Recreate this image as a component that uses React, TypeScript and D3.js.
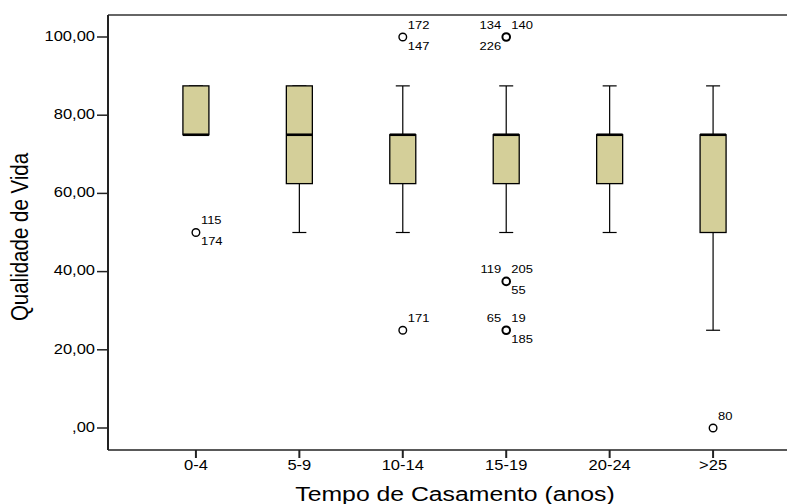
import React, { useEffect, useRef } from 'react';
import * as d3 from 'd3';

// box statistics per marriage-time group
const groups = ['0-4', '5-9', '10-14', '15-19', '20-24', '>25'];
const q1 = [75, 62.5, 62.5, 62.5, 62.5, 50];
const medians = [75, 75, 75, 75, 75, 75];
const q3 = [87.5, 87.5, 75, 75, 75, 75];
const whiskerLow = [75, 50, 50, 50, 50, 25];
const whiskerHigh = [87.5, 87.5, 87.5, 87.5, 87.5, 87.5];

// outliers (case numbers placed around the circle)
const outlierGroups = ['0-4', '10-14', '10-14', '15-19', '15-19', '15-19', '>25'];
const outlierValues = [50, 100, 25, 100, 37.5, 25, 0];
const outlierLabels: [string, string][][] = [
  [['115', 'ur'], ['174', 'lr']],
  [['172', 'ur'], ['147', 'lr']],
  [['171', 'ur']],
  [['134', 'ul'], ['140', 'ur'], ['226', 'll']],
  [['119', 'ul'], ['205', 'ur'], ['55', 'lr']],
  [['65', 'ul'], ['19', 'ur'], ['185', 'lr']],
  [['80', 'ur']],
];

const yTicks = [0, 20, 40, 60, 80, 100];

const App = () => {
  const svgRef = useRef<SVGSVGElement>(null);

  useEffect(() => {
    const svg = d3.select(svgRef.current);
    svg.selectAll('*').remove();

    const width = 787;
    const height = 504;
    const left = 108;
    const top = 15;
    const bottom = 450;
    const stretch = 1.18; // the original picture is a bit wider than tall
    const font = '"Liberation Sans", Arial, sans-serif';

    const x = d3.scalePoint<string>().domain(groups).range([left, 801]).padding(0.85);
    const y = d3.scaleLinear().domain([0, 100]).range([428, 37]);

    const boxW = 26;
    const capW = 14;

    const addText = (tx: number, ty: number, str: string, size: number, anchor: string, rot = 0) =>
      svg.append('text')
        .attr('transform', `translate(${tx},${ty}) scale(${stretch},1)${rot ? ` rotate(${rot})` : ''}`)
        .attr('text-anchor', anchor)
        .attr('dominant-baseline', 'middle')
        .style('font-family', font)
        .style('font-size', `${size}px`)
        .style('fill', '#000')
        .text(str);

    // frame
    svg.append('line').attr('x1', left).attr('x2', width).attr('y1', top).attr('y2', top)
      .attr('stroke', '#333').attr('stroke-width', 1.5);
    svg.append('line').attr('x1', left).attr('x2', width).attr('y1', bottom).attr('y2', bottom)
      .attr('stroke', '#222').attr('stroke-width', 1.5);
    svg.append('line').attr('x1', left).attr('x2', left).attr('y1', top).attr('y2', bottom)
      .attr('stroke', '#222').attr('stroke-width', 2);

    // y ticks
    yTicks.forEach(t => {
      svg.append('line').attr('x1', left - 11).attr('x2', left).attr('y1', y(t)).attr('y2', y(t))
        .attr('stroke', '#222').attr('stroke-width', 1.5);
      addText(left - 13, y(t), d3.format('.2f')(t).replace('.', ',').replace(/^0/, ''), 14, 'end');
    });

    // x ticks
    groups.forEach(g => {
      const cx = x(g)!;
      svg.append('line').attr('x1', cx).attr('x2', cx).attr('y1', bottom).attr('y2', bottom + 8)
        .attr('stroke', '#222').attr('stroke-width', 2);
      addText(cx, bottom + 16, g, 14, 'middle');
    });

    // boxes
    groups.forEach((g, i) => {
      const cx = x(g)!;
      svg.append('line').attr('x1', cx).attr('x2', cx).attr('y1', y(whiskerHigh[i])).attr('y2', y(q3[i]))
        .attr('stroke', '#000').attr('stroke-width', 1.2);
      svg.append('line').attr('x1', cx).attr('x2', cx).attr('y1', y(q1[i])).attr('y2', y(whiskerLow[i]))
        .attr('stroke', '#000').attr('stroke-width', 1.2);
      [whiskerHigh[i], whiskerLow[i]].forEach(v => {
        svg.append('line').attr('x1', cx - capW / 2).attr('x2', cx + capW / 2).attr('y1', y(v)).attr('y2', y(v))
          .attr('stroke', '#000').attr('stroke-width', 1.2);
      });
      svg.append('rect')
        .attr('x', cx - boxW / 2).attr('width', boxW)
        .attr('y', y(q3[i])).attr('height', y(q1[i]) - y(q3[i]))
        .attr('fill', '#d4cf99').attr('stroke', '#000').attr('stroke-width', 1.3);
      svg.append('line').attr('x1', cx - boxW / 2).attr('x2', cx + boxW / 2)
        .attr('y1', y(medians[i])).attr('y2', y(medians[i]))
        .attr('stroke', '#000').attr('stroke-width', 2.6);
    });

    // outliers
    outlierGroups.forEach((g, i) => {
      const cx = x(g)!;
      const cy = y(outlierValues[i]);
      svg.append('circle').attr('cx', cx).attr('cy', cy).attr('r', 3.8)
        .attr('fill', '#fff').attr('stroke', '#000')
        .attr('stroke-width', outlierLabels[i].length > 2 ? 2 : 1.4);
      outlierLabels[i].forEach(([lab, pos]) => {
        const dx = pos[1] === 'r' ? 5 : -5;
        const dy = pos[0] === 'u' ? -11 : 10;
        addText(cx + dx, cy + dy, lab, 11, pos[1] === 'r' ? 'start' : 'end');
      });
    });

    // axis titles
    addText(22, 237, 'Qualidade de Vida', 20.5, 'middle', -90);
    addText(455, 495, 'Tempo de Casamento (anos)', 21, 'middle');

    svg.attr('width', width).attr('height', height);
  }, []);

  return (
    <svg ref={svgRef} width={787} height={504}
      style={{ position: 'absolute', left: 0, top: 0, background: '#fff' }} />
  );
};

export default App;
